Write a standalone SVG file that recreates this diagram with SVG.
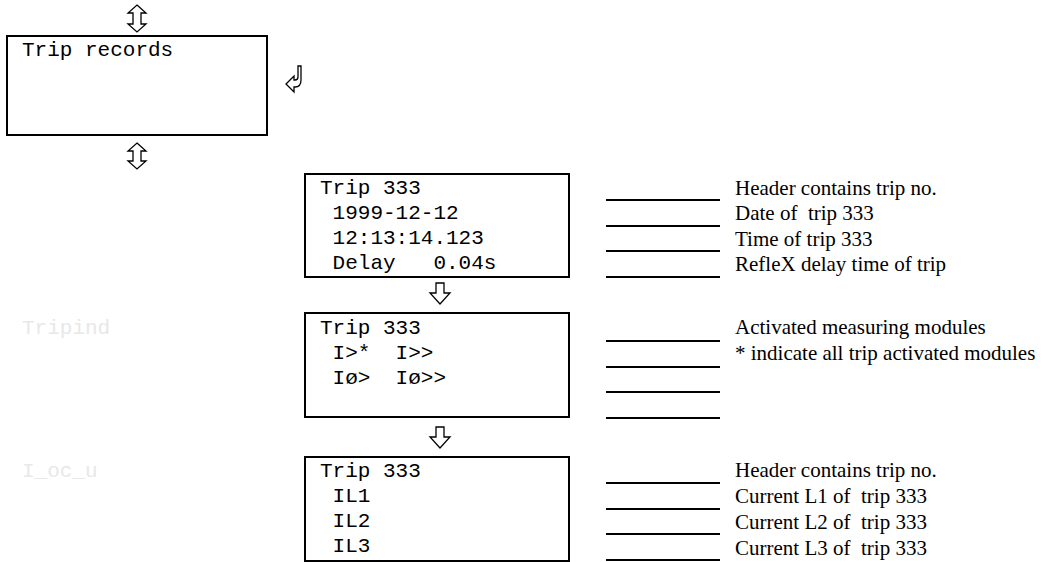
<svg xmlns="http://www.w3.org/2000/svg" width="1045" height="562" viewBox="0 0 1045 562">
<style>
.box{fill:#fff;stroke:#000;stroke-width:2}
.mono{font-family:"Liberation Mono","Courier New",monospace;font-size:21px;fill:#000;white-space:pre}
.ghost{font-family:"Liberation Mono","Courier New",monospace;font-size:21px;fill:#e8e8e8}
.note{font-family:"Liberation Serif","Times New Roman",serif;font-size:21px;fill:#000}
.lead{stroke:#000;stroke-width:2}
.arr{fill:#fff;stroke:#000;stroke-width:1.3;stroke-linejoin:miter}
</style>
<rect width="1045" height="562" fill="#fff"/>
<g id="trip-records">
<rect class="box" x="7" y="36" width="260" height="99"/>
<text class="mono" x="22" y="56" xml:space="preserve">Trip records</text>
</g>
<g id="trip-header">
<rect class="box" x="305" y="174" width="264" height="103"/>
<text class="mono" x="320" y="194" xml:space="preserve">Trip 333</text>
<text class="mono" x="320" y="219" xml:space="preserve"> 1999-12-12</text>
<text class="mono" x="320" y="244" xml:space="preserve"> 12:13:14.123</text>
<text class="mono" x="320" y="269" xml:space="preserve"> Delay   0.04s</text>
</g>
<g id="trip-modules">
<rect class="box" x="305" y="313" width="264" height="104"/>
<text class="mono" x="320" y="334" xml:space="preserve">Trip 333</text>
<text class="mono" x="320" y="359" xml:space="preserve"> I&gt;*  I&gt;&gt;</text>
<text class="mono" x="320" y="384" xml:space="preserve"> Iø&gt;  Iø&gt;&gt;</text>
</g>
<g id="trip-currents">
<rect class="box" x="305" y="457" width="264" height="104"/>
<text class="mono" x="320" y="477" xml:space="preserve">Trip 333</text>
<text class="mono" x="320" y="502" xml:space="preserve"> IL1</text>
<text class="mono" x="320" y="527" xml:space="preserve"> IL2</text>
<text class="mono" x="320" y="552" xml:space="preserve"> IL3</text>
</g>
<g id="ghost-labels">
<text class="ghost" x="22" y="334">Tripind</text>
<text class="ghost" x="22" y="477">I_oc_u</text>
</g>
<g id="notes-1">
<line class="lead" x1="606" y1="200" x2="720" y2="200"/>
<line class="lead" x1="606" y1="226" x2="720" y2="226"/>
<line class="lead" x1="606" y1="251" x2="720" y2="251"/>
<line class="lead" x1="606" y1="277" x2="720" y2="277"/>
<text class="note" x="735" y="195">Header contains trip no.</text>
<text class="note" x="735" y="220" xml:space="preserve">Date of  trip 333</text>
<text class="note" x="735" y="246">Time of trip 333</text>
<text class="note" x="735" y="271">RefleX delay time of trip</text>
</g>
<g id="notes-2">
<line class="lead" x1="606" y1="341" x2="720" y2="341"/>
<line class="lead" x1="606" y1="367" x2="720" y2="367"/>
<line class="lead" x1="606" y1="392" x2="720" y2="392"/>
<line class="lead" x1="606" y1="418" x2="720" y2="418"/>
<text class="note" x="735" y="334">Activated measuring modules</text>
<text class="note" x="735" y="360">* indicate all trip activated modules</text>
</g>
<g id="notes-3">
<line class="lead" x1="606" y1="483" x2="720" y2="483"/>
<line class="lead" x1="606" y1="509" x2="720" y2="509"/>
<line class="lead" x1="606" y1="534" x2="720" y2="534"/>
<line class="lead" x1="606" y1="560" x2="720" y2="560"/>
<text class="note" x="735" y="477">Header contains trip no.</text>
<text class="note" x="735" y="503" xml:space="preserve">Current L1 of  trip 333</text>
<text class="note" x="735" y="529" xml:space="preserve">Current L2 of  trip 333</text>
<text class="note" x="735" y="555" xml:space="preserve">Current L3 of  trip 333</text>
</g>
<g id="connectors">
<polygon class="arr" points="137,5 146,13 141,13 141,24 146,24 137,32 128,24 133,24 133,13 128,13"/>
<polygon class="arr" points="137,143 146,151 141,151 141,161 146,161 137,169 128,161 133,161 133,151 128,151"/>
<path class="arr" d="M298 66 L301 66 L301 80 Q301 87 295 87 L294 87 L294 92 L286 84 L294 76 L294 80 L295 80 Q298 80 298 77 Z"/>
<polygon class="arr" points="436,283 444,283 444,293 450,293 440,304 430,293 436,293"/>
<polygon class="arr" points="436,427 444,427 444,437 450,437 440,448 430,437 436,437"/>
</g>
</svg>
